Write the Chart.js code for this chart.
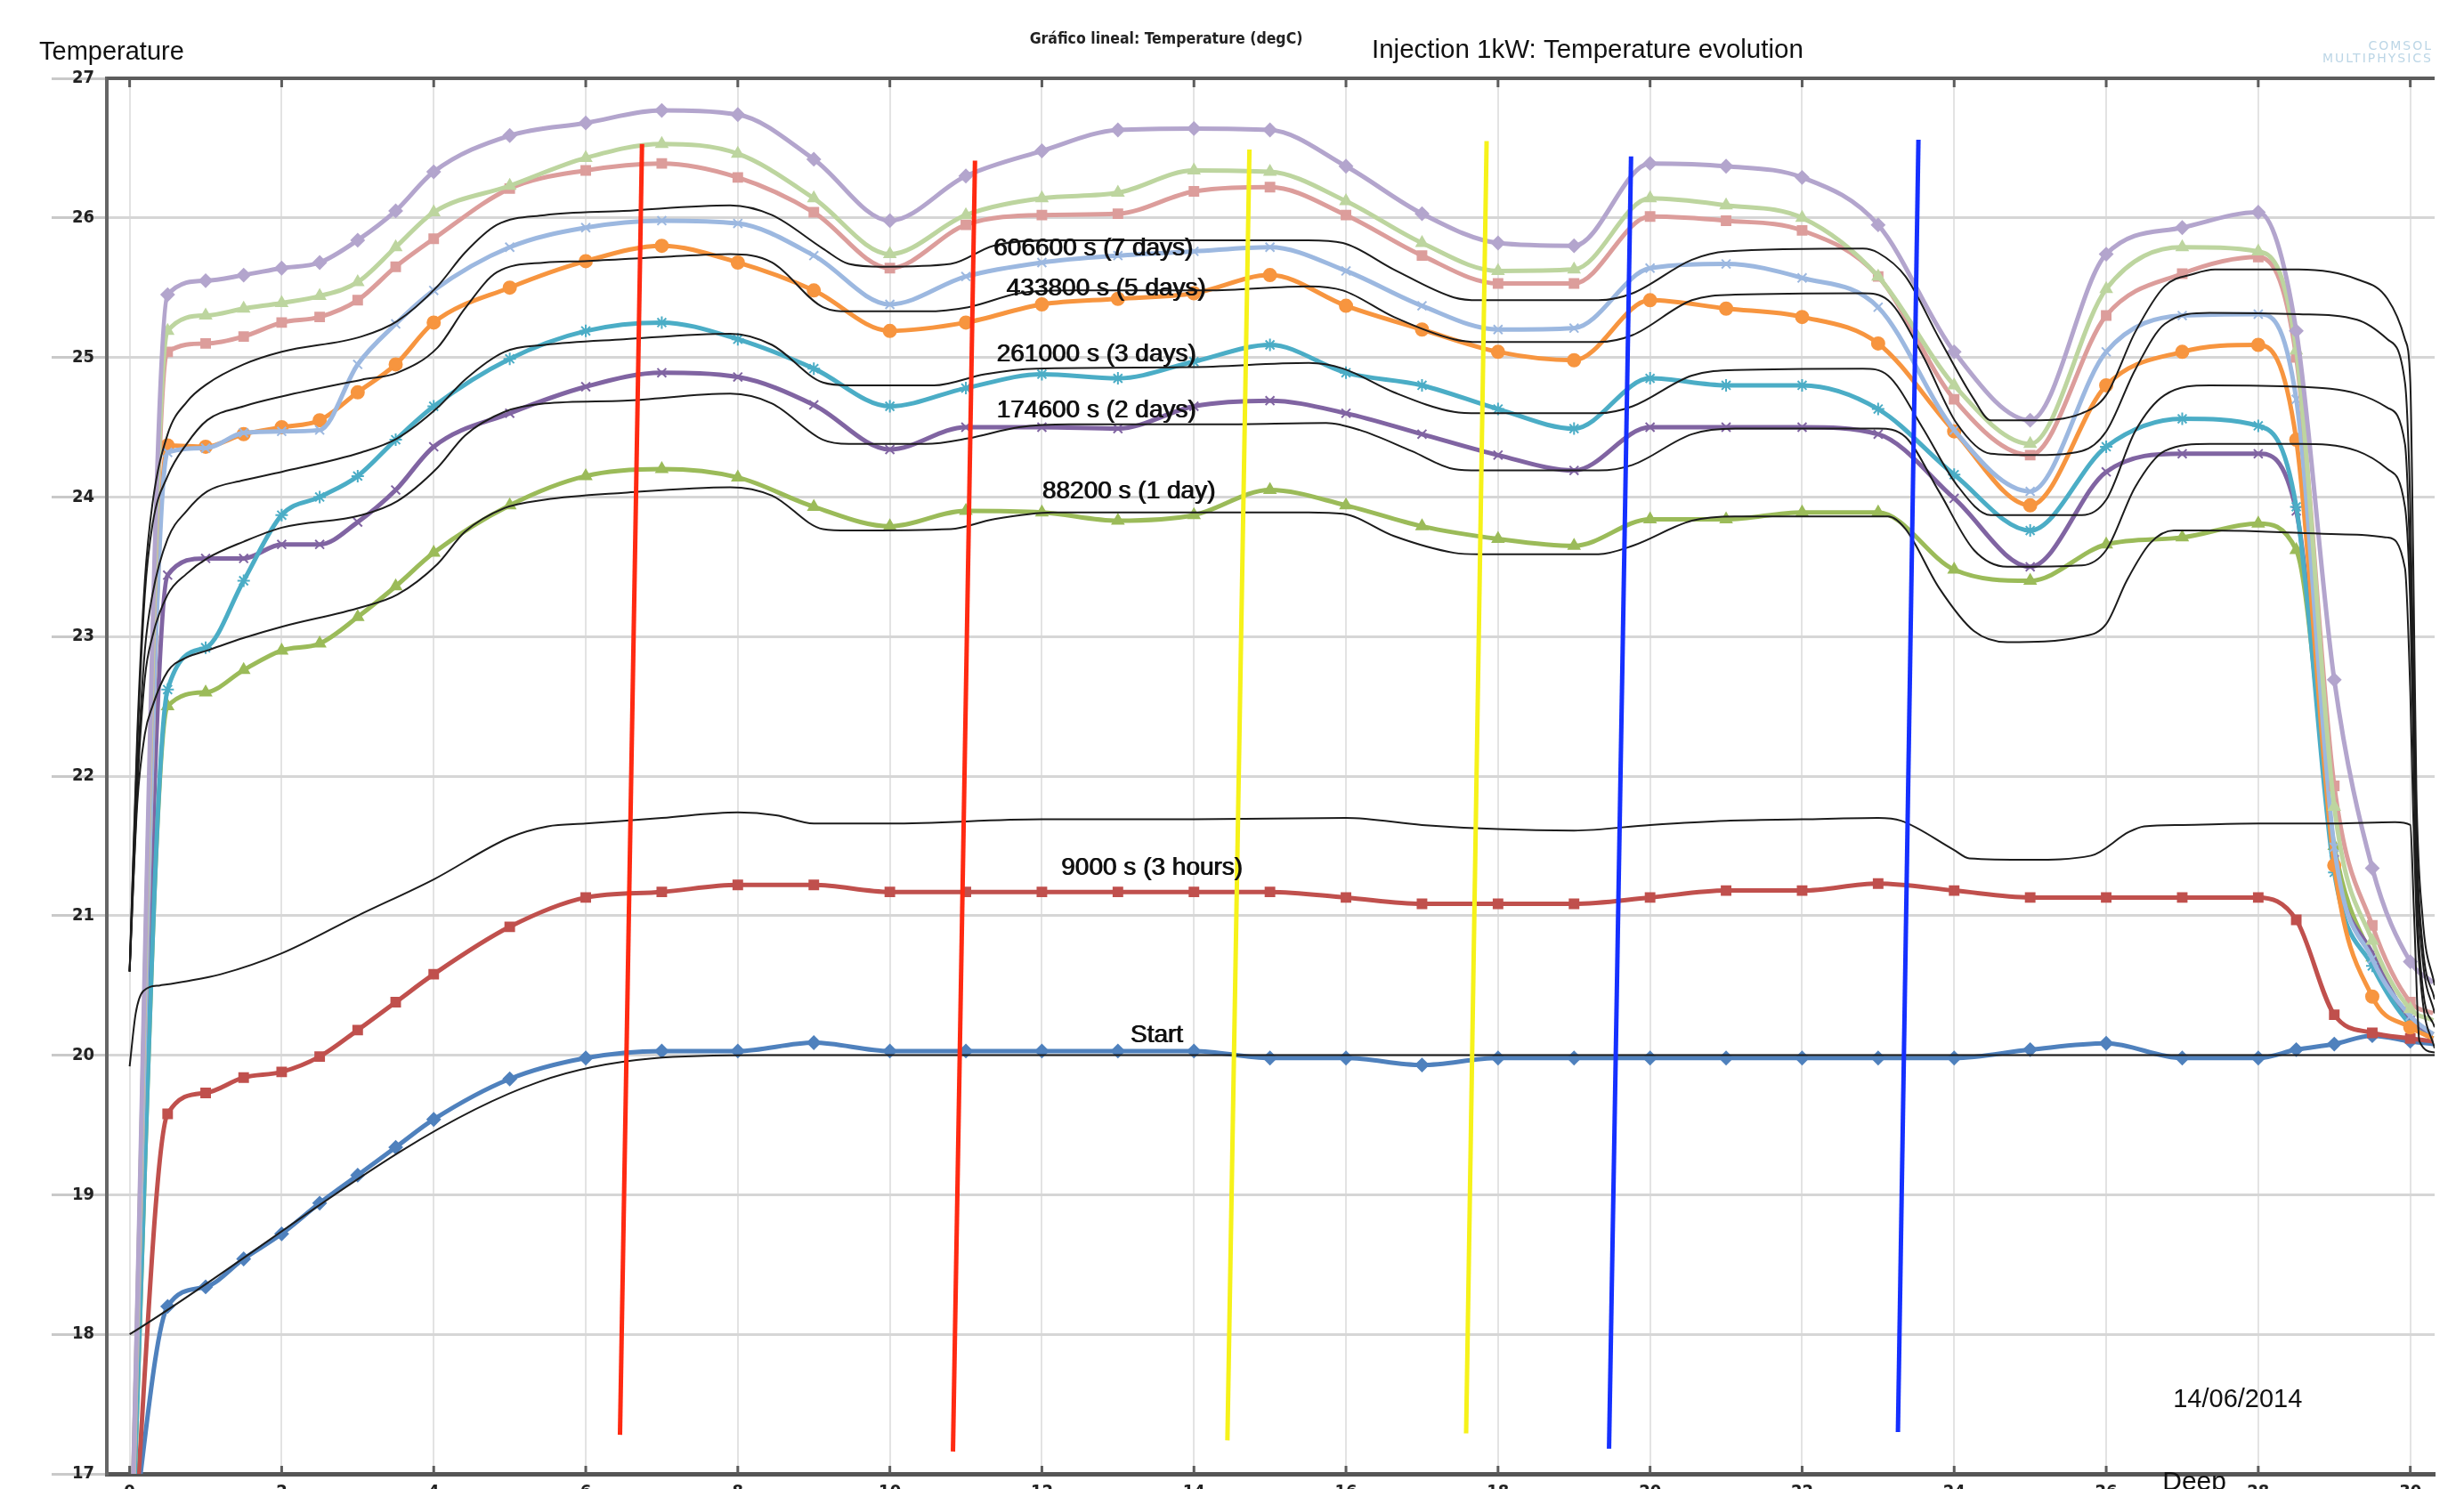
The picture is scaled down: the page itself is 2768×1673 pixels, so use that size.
<!doctype html>
<html lang="en">
<head>
<meta charset="UTF-8">
<title>Injection 1kW: Temperature evolution</title>
<style>
    * { margin: 0; padding: 0; box-sizing: border-box; }
    html, body { width: 2768px; height: 1673px; overflow: hidden; background: #fff; }
    #wrap { position: relative; width: 2768px; height: 1700px; }
</style>
</head>
<body>
<div id="wrap"><canvas id="chart"></canvas></div>

<script src="https://cdn.jsdelivr.net/npm/chart.js"></script>
<script>
    // depth positions of the marked series
    const depth = [0, 0.5, 1, 1.5, 2, 2.5, 3, 3.5, 4, 5, 6, 7, 8, 9, 10, 11, 12, 13, 14, 15,
        16, 17, 18, 19, 20, 21, 22, 23, 24, 25, 26, 27, 28, 28.5, 29, 29.5, 30, 30.3];

    const xTicks = [0, 2, 4, 6, 8, 10, 12, 14, 16, 18, 20, 22, 24, 26, 28, 30];
    const yTicks = [17, 18, 19, 20, 21, 22, 23, 24, 25, 26, 27];

    // measured temperatures (marked series)
    const tStart = [16.4, 18.2, 18.34, 18.54, 18.72, 18.94, 19.14, 19.34, 19.54, 19.83, 19.98, 20.03, 20.03, 20.09, 20.03,
        20.03, 20.03, 20.03, 20.03, 19.98, 19.98, 19.93, 19.98, 19.98, 19.98, 19.98, 19.98, 19.98, 19.98, 20.04,
        20.085, 19.98, 19.98, 20.04, 20.08, 20.14, 20.1, 20.08];
    const t9000 = [16.0, 19.58, 19.73, 19.84, 19.88, 19.99, 20.18, 20.38, 20.58, 20.92, 21.13, 21.17, 21.22, 21.22, 21.17,
        21.17, 21.17, 21.17, 21.17, 21.17, 21.13, 21.085, 21.085, 21.085, 21.13, 21.18, 21.18, 21.23, 21.18, 21.13,
        21.13, 21.13, 21.13, 20.97, 20.29, 20.16, 20.12, 20.1];
    const tGreen = [16.0, 22.50, 22.60, 22.76, 22.90, 22.95, 23.14, 23.36, 23.60, 23.94, 24.15, 24.20, 24.14, 23.93, 23.79,
        23.90, 23.89, 23.83, 23.87, 24.05, 23.94, 23.79, 23.70, 23.65, 23.84, 23.84, 23.89, 23.89, 23.48, 23.40,
        23.66, 23.71, 23.81, 23.62, 21.5, 20.7, 20.25, 20.15];
    const tPurple = [16.0, 23.44, 23.56, 23.56, 23.66, 23.66, 23.82, 24.05, 24.36, 24.60, 24.79, 24.89, 24.86, 24.66, 24.34,
        24.50, 24.50, 24.49, 24.65, 24.69, 24.60, 24.45, 24.30, 24.19, 24.50, 24.50, 24.50, 24.45, 23.99, 23.50,
        24.18, 24.31, 24.31, 23.9, 21.4, 20.73, 20.25, 20.15];
    const tTeal = [16.0, 22.62, 22.92, 23.40, 23.87, 24.0, 24.15, 24.41, 24.65, 24.99, 25.19, 25.25, 25.13, 24.92, 24.65,
        24.78, 24.88, 24.85, 24.97, 25.09, 24.89, 24.80, 24.63, 24.49, 24.85, 24.80, 24.80, 24.63, 24.16, 23.76,
        24.36, 24.56, 24.51, 23.93, 21.31, 20.64, 20.22, 20.12];
    const tOrange = [16.0, 24.37, 24.36, 24.45, 24.50, 24.55, 24.75, 24.95, 25.25, 25.50, 25.69, 25.80, 25.68, 25.48, 25.19,
        25.25, 25.38, 25.42, 25.46, 25.59, 25.37, 25.20, 25.04, 24.98, 25.41, 25.35, 25.29, 25.10, 24.47, 23.94,
        24.80, 25.04, 25.09, 24.41, 21.36, 20.42, 20.2, 20.12];
    const tLightBlue = [16.0, 24.32, 24.35, 24.46, 24.47, 24.48, 24.95, 25.24, 25.48, 25.79, 25.93, 25.98, 25.96, 25.73, 25.38,
        25.58, 25.68, 25.73, 25.76, 25.79, 25.62, 25.37, 25.20, 25.21, 25.64, 25.67, 25.57, 25.36, 24.48, 24.04,
        25.04, 25.30, 25.31, 24.7, 21.49, 20.69, 20.28, 20.15];
    const tPink = [16.0, 25.04, 25.10, 25.15, 25.25, 25.29, 25.41, 25.65, 25.85, 26.21, 26.34, 26.39, 26.29, 26.04, 25.64,
        25.95, 26.02, 26.03, 26.19, 26.22, 26.02, 25.73, 25.53, 25.53, 26.01, 25.98, 25.91, 25.58, 24.70, 24.30,
        25.30, 25.60, 25.72, 25.0, 21.93, 20.93, 20.38, 20.3];
    const tLightGreen = [16.0, 25.19, 25.30, 25.35, 25.39, 25.44, 25.54, 25.79, 26.04, 26.23, 26.43, 26.53, 26.46, 26.14, 25.74,
        26.02, 26.14, 26.18, 26.34, 26.33, 26.12, 25.82, 25.62, 25.63, 26.14, 26.09, 26.00, 25.58, 24.80, 24.38,
        25.49, 25.79, 25.76, 25.05, 21.78, 20.82, 20.33, 20.25];
    const tLavender = [16.0, 25.45, 25.55, 25.59, 25.64, 25.68, 25.84, 26.05, 26.33, 26.59, 26.68, 26.77, 26.74, 26.42, 25.98,
        26.30, 26.48, 26.63, 26.64, 26.63, 26.37, 26.03, 25.82, 25.80, 26.39, 26.37, 26.29, 25.95, 25.04, 24.55,
        25.74, 25.93, 26.04, 25.19, 22.69, 21.34, 20.67, 20.52];

    // simulated profiles [depth, temperature]
    const simStart = [[0, 18.0], [5.39, 19.81], [8.35, 20.0], [30.32, 20.0]];
    const sim9000 = [[0, 19.92], [0.08, 20.3], [0.18, 20.46], [0.4, 20.5], [0.75, 20.53], [1.2, 20.58], [2, 20.73], [3, 21.0],
        [4, 21.26], [5, 21.56], [5.5, 21.64], [6, 21.66], [7, 21.7], [8, 21.74], [8.5, 21.72], [9, 21.66], [10, 21.66],
        [12, 21.69], [14, 21.69], [16, 21.7], [17, 21.65], [18, 21.62], [19, 21.61], [20, 21.65], [21, 21.68], [22, 21.69],
        [23, 21.7], [23.3, 21.68], [24, 21.47], [24.2, 21.41], [25, 21.4], [25.8, 21.43], [26.3, 21.6], [26.5, 21.64],
        [27, 21.65], [28, 21.66], [29, 21.66], [29.8, 21.67], [30, 21.65], [30.05, 21.0], [30.12, 20.1], [30.32, 20.02]];
    const sim1day = [[0, 20.6], [0.1, 21.8], [0.2, 22.3], [0.3, 22.5], [0.5, 22.75], [0.75, 22.85], [1.02, 22.9], [1.5, 22.99],
        [2, 23.07], [3.05, 23.21], [3.52, 23.3], [4.05, 23.52], [4.41, 23.75], [4.93, 23.92], [5.46, 23.98], [6.5, 24.03],
        [7.9, 24.07], [8.45, 24.01], [9.12, 23.77], [9.46, 23.76], [10.8, 23.77], [11.36, 23.84], [12.15, 23.89],
        [13.94, 23.89], [15.51, 23.89], [15.96, 23.88], [16.63, 23.72], [17.42, 23.6], [17.75, 23.59], [19.32, 23.59],
        [19.77, 23.65], [20.55, 23.83], [21.12, 23.86], [23.13, 23.86], [23.36, 23.77], [23.8, 23.35], [24.26, 23.04],
        [24.7, 22.96], [25.68, 23.0], [26, 23.09], [26.27, 23.4], [26.58, 23.67], [26.89, 23.76], [27.36, 23.76],
        [29.3, 23.73], [29.7, 23.71], [29.93, 23.49], [30, 22.6], [30.04, 21.7], [30.08, 21.0], [30.16, 20.4], [30.32, 20.05]];
    const sim2days = [[0, 20.6], [0.1, 21.9], [0.2, 22.7], [0.3, 23.0], [0.5, 23.3], [0.75, 23.45], [1.02, 23.56], [1.5, 23.68],
        [2, 23.78], [3.05, 23.87], [3.52, 23.97], [4.05, 24.21], [4.41, 24.44], [4.93, 24.61], [5.46, 24.67], [6.5, 24.69],
        [7.9, 24.74], [8.45, 24.67], [9.12, 24.41], [9.46, 24.38], [10.47, 24.38], [11.03, 24.42], [11.7, 24.5],
        [12.37, 24.52], [14.39, 24.52], [15.74, 24.53], [16.18, 24.48], [16.86, 24.33], [17.42, 24.2], [17.75, 24.19],
        [19.32, 24.19], [19.77, 24.23], [20.55, 24.45], [21.12, 24.49], [23, 24.49], [23.36, 24.43], [23.8, 24.04],
        [24.26, 23.62], [24.7, 23.5], [25.68, 23.51], [26, 23.62], [26.38, 24.07], [26.77, 24.33], [27.36, 24.38],
        [28.53, 24.38], [29.3, 24.33], [29.7, 24.2], [29.93, 23.93], [30, 23.22], [30.04, 22.2], [30.08, 21.2],
        [30.16, 20.5], [30.32, 20.2]];
    const sim3days = [[0, 20.6], [0.1, 22.0], [0.2, 22.9], [0.3, 23.3], [0.5, 23.7], [0.75, 23.9], [1.02, 24.04], [1.5, 24.12],
        [2, 24.18], [3.05, 24.32], [3.52, 24.42], [4.05, 24.64], [4.41, 24.84], [4.93, 25.04], [5.46, 25.09], [6.5, 25.13],
        [7.9, 25.17], [8.45, 25.09], [9.12, 24.82], [9.46, 24.8], [10.58, 24.8], [11.25, 24.88], [11.92, 24.92],
        [13.94, 24.93], [15.51, 24.96], [15.96, 24.92], [16.63, 24.75], [17.42, 24.61], [17.75, 24.6], [19.32, 24.6],
        [19.77, 24.65], [20.55, 24.87], [21.12, 24.91], [22.8, 24.92], [23.13, 24.87], [23.58, 24.5], [24.03, 24.09],
        [24.48, 23.87], [25.02, 23.87], [25.68, 23.87], [26, 23.98], [26.38, 24.47], [26.77, 24.73], [27.36, 24.8],
        [28.53, 24.79], [29.3, 24.74], [29.7, 24.64], [29.93, 24.38], [30, 23.49], [30.04, 22.5], [30.08, 21.4],
        [30.16, 20.7], [30.32, 20.3]];
    const sim5days = [[0, 20.6], [0.1, 22.2], [0.2, 23.3], [0.3, 23.8], [0.5, 24.15], [0.75, 24.38], [1.02, 24.55], [1.5, 24.65],
        [2, 24.72], [3.05, 24.84], [3.52, 24.89], [4.05, 25.07], [4.41, 25.35], [4.83, 25.61], [5.46, 25.68], [5.98, 25.69],
        [7.02, 25.72], [7.9, 25.74], [8.45, 25.68], [9.12, 25.36], [9.46, 25.33], [10.47, 25.33], [11.03, 25.36],
        [11.7, 25.46], [12.37, 25.48], [14.17, 25.48], [15.51, 25.51], [15.96, 25.48], [16.63, 25.29], [17.42, 25.13],
        [17.75, 25.11], [19.32, 25.11], [19.77, 25.16], [20.55, 25.41], [21.12, 25.45], [22.8, 25.46], [23.13, 25.41],
        [23.58, 25.02], [24.03, 24.53], [24.48, 24.31], [25.02, 24.3], [25.68, 24.33], [26, 24.47], [26.38, 24.91],
        [26.77, 25.24], [27.36, 25.32], [28.53, 25.31], [29.3, 25.27], [29.7, 25.13], [29.93, 24.82], [30, 23.93],
        [30.04, 22.8], [30.08, 21.6], [30.16, 20.8], [30.32, 20.4]];
    const sim7days = [[0, 20.6], [0.1, 22.3], [0.2, 23.4], [0.3, 23.95], [0.5, 24.45], [0.75, 24.68], [1.02, 24.81], [1.5, 24.95],
        [2, 25.04], [3.05, 25.15], [3.52, 25.26], [4.05, 25.51], [4.41, 25.75], [4.83, 25.95], [5.46, 26.02], [6.5, 26.05],
        [7.9, 26.09], [8.45, 26.02], [9.12, 25.78], [9.46, 25.67], [9.9, 25.65], [10.8, 25.67], [11.36, 25.8],
        [12.15, 25.84], [13.94, 25.84], [15.5, 25.84], [15.96, 25.82], [16.63, 25.63], [17.42, 25.43], [17.75, 25.41],
        [19.32, 25.41], [19.77, 25.46], [20.55, 25.7], [21, 25.76], [22.8, 25.78], [23, 25.75], [23.36, 25.58],
        [23.8, 25.14], [24.26, 24.7], [24.48, 24.55], [25.02, 24.55], [25.68, 24.6], [26, 24.73], [26.38, 25.18],
        [26.77, 25.51], [27.16, 25.6], [27.43, 25.63], [28.53, 25.63], [29.3, 25.56], [29.7, 25.42], [29.93, 25.13],
        [30, 24.82], [30.04, 23.5], [30.08, 21.9], [30.16, 21.0], [30.32, 20.5]];

    // hand-drawn marks [depth, temperature], bottom end first
    const red1 = [[6.45, 17.28], [6.74, 26.53]];
    const red2 = [[10.83, 17.16], [11.12, 26.41]];
    const yellow1 = [[14.44, 17.24], [14.73, 26.49]];
    const yellow2 = [[17.58, 17.29], [17.85, 26.55]];
    const blue1 = [[19.46, 17.18], [19.75, 26.44]];
    const blue2 = [[23.26, 17.30], [23.53, 26.56]];

    // curve labels [depth, temperature, text]
    const curveLabels = [
        [11.36, 25.78, '606600 s (7 days)'],
        [11.53, 25.49, '433800 s (5 days)'],
        [11.40, 25.02, '261000 s (3 days)'],
        [11.40, 24.62, '174600 s (2 days)'],
        [12.0, 24.04, '88200 s (1 day)'],
        [12.25, 21.34, '9000 s (3 hours)'],
        [13.16, 20.14, 'Start']
    ];
</script>

<script>
    Chart.defaults.font.family = "'Liberation Sans', Arial, sans-serif";

    const toXY = arr => arr.map(p => ({x: p[0], y: p[1]}));
    const lastIdx = depth.length - 1;
    const markR = ctx => (ctx.dataIndex === 0 || ctx.dataIndex === lastIdx) ? 0 : 7;

    function marked(values, color, style) {
        return {
            data: depth.map((x, i) => ({x: x, y: values[i]})),
            borderColor: color,
            borderWidth: 5,
            pointRadius: markR,
            pointStyle: style,
            pointBackgroundColor: color,
            pointBorderColor: color,
            pointBorderWidth: 2,
            cubicInterpolationMode: 'monotone'
        };
    }

    function thin(arr) {
        return {
            data: toXY(arr),
            borderColor: '#1c1c1c',
            borderWidth: 2,
            pointRadius: 0,
            cubicInterpolationMode: 'monotone'
        };
    }

    function stroke(arr, color) {
        return {
            data: toXY(arr),
            borderColor: color,
            borderWidth: 5,
            pointRadius: 0,
            tension: 0
        };
    }

    // first dataset is drawn on top
    const datasets = [
        stroke(red1, '#ff2a12'), stroke(red2, '#ff2a12'),
        stroke(yellow1, '#f6f21a'), stroke(yellow2, '#f6f21a'),
        stroke(blue1, '#1530ff'), stroke(blue2, '#1530ff'),
        thin(sim7days), thin(sim5days), thin(sim3days), thin(sim2days), thin(sim1day),
        thin(sim9000), thin(simStart),
        marked(tLavender, '#b3a5cd', 'rectRot'),
        marked(tLightGreen, '#bdd59f', 'triangle'),
        marked(tPink, '#dc9d9b', 'rect'),
        marked(tLightBlue, '#9cb8e0', 'crossRot'),
        marked(tOrange, '#f7953f', 'circle'),
        marked(tTeal, '#4badc6', 'star'),
        marked(tPurple, '#8064a2', 'crossRot'),
        marked(tGreen, '#9bbb59', 'triangle'),
        marked(t9000, '#c0504d', 'rect'),
        marked(tStart, '#4f81bd', 'rectRot')
    ];

    const framePlugin = {
        id: 'frame',
        afterDatasetsDraw(chart) {
            const {ctx, chartArea: a} = chart;
            const x = chart.scales.x;
            ctx.save();
            ctx.strokeStyle = '#5c5c5c';
            ctx.lineWidth = 4;
            ctx.beginPath();
            ctx.moveTo(a.left, a.top);
            ctx.lineTo(a.right, a.top);
            ctx.stroke();
            ctx.lineWidth = 3;
            xTicks.forEach(v => {
                const px = x.getPixelForValue(v);
                ctx.beginPath();
                ctx.moveTo(px, a.top);
                ctx.lineTo(px, a.top + 10);
                ctx.moveTo(px, a.bottom);
                ctx.lineTo(px, a.bottom - 9);
                ctx.stroke();
            });
            ctx.restore();
        }
    };

    const textPlugin = {
        id: 'texts',
        afterDraw(chart) {
            const {ctx, chartArea: a} = chart;
            const x = chart.scales.x, y = chart.scales.y;
            ctx.save();
            ctx.fillStyle = '#111';
            ctx.textBaseline = 'middle';
            ctx.textAlign = 'left';
            ctx.font = "28px 'Liberation Sans', Arial, sans-serif";
            curveLabels.forEach(l => {
                const px = x.getPixelForValue(l[0]), py = y.getPixelForValue(l[1]);
                ctx.fillText(l[2], px, py);
                ctx.fillText(l[2], px + 1, py);
            });

            ctx.font = "29px 'Liberation Sans', Arial, sans-serif";
            ctx.fillText('Temperature', 44, 59);
            ctx.font = "29.5px 'Liberation Sans', Arial, sans-serif";
            ctx.fillText('Injection 1kW: Temperature evolution', 1541, 57);
            ctx.font = "29px 'Liberation Sans', Arial, sans-serif";
            ctx.fillText('14/06/2014', x.getPixelForValue(26.88), y.getPixelForValue(17.53));
            ctx.font = "30px 'Liberation Sans', Arial, sans-serif";
            ctx.textBaseline = 'top';
            ctx.fillText('Deep', x.getPixelForValue(26.74), a.bottom - 5);

            ctx.textBaseline = 'middle';
            ctx.textAlign = 'center';
            ctx.fillStyle = '#222';
            ctx.font = "bold 17.5px 'DejaVu Sans Condensed', sans-serif";
            ctx.fillText('Gráfico lineal: Temperature (degC)', 1310, 44);

            ctx.textAlign = 'right';
            ctx.fillStyle = '#bcd6e6';
            ctx.font = "14px 'DejaVu Sans', sans-serif";
            ctx.letterSpacing = '2px';
            ctx.fillText('COMSOL', 2733, 52);
            ctx.fillText('MULTIPHYSICS', 2733, 66);
            ctx.restore();
        }
    };

    const tickFont = {family: "'DejaVu Sans Condensed', sans-serif", size: 20, weight: 'bold'};

    const myChart = new Chart(document.getElementById('chart'), {
        type: 'line',
        data: {datasets: datasets},
        options: {
            responsive: true,
            maintainAspectRatio: false,
            animation: false,
            events: [],
            layout: {padding: {top: 88, right: 33, bottom: 0, left: 0}},
            plugins: {legend: {display: false}, tooltip: {enabled: false}},
            scales: {
                x: {
                    type: 'linear',
                    min: -0.3,
                    max: 30.32,
                    afterBuildTicks: s => { s.ticks = xTicks.map(v => ({value: v})); },
                    afterFit: s => { s.height = 44; },
                    grid: {color: '#e3e3e3', lineWidth: 2, drawTicks: false},
                    border: {color: '#555', width: 5},
                    ticks: {padding: 9, color: '#222', font: tickFont, maxRotation: 0, autoSkip: false}
                },
                y: {
                    min: 17,
                    max: 27,
                    afterBuildTicks: s => { s.ticks = yTicks.map(v => ({value: v})); },
                    afterFit: s => { s.width = 120; },
                    grid: {color: '#d6d6d6', lineWidth: 3, tickLength: 62, tickColor: '#c9c9c9', tickWidth: 3},
                    border: {color: '#666', width: 4},
                    ticks: {padding: -48, color: '#222', font: tickFont}
                }
            }
        },
        plugins: [framePlugin, textPlugin]
    });
</script>
</body>
</html>
